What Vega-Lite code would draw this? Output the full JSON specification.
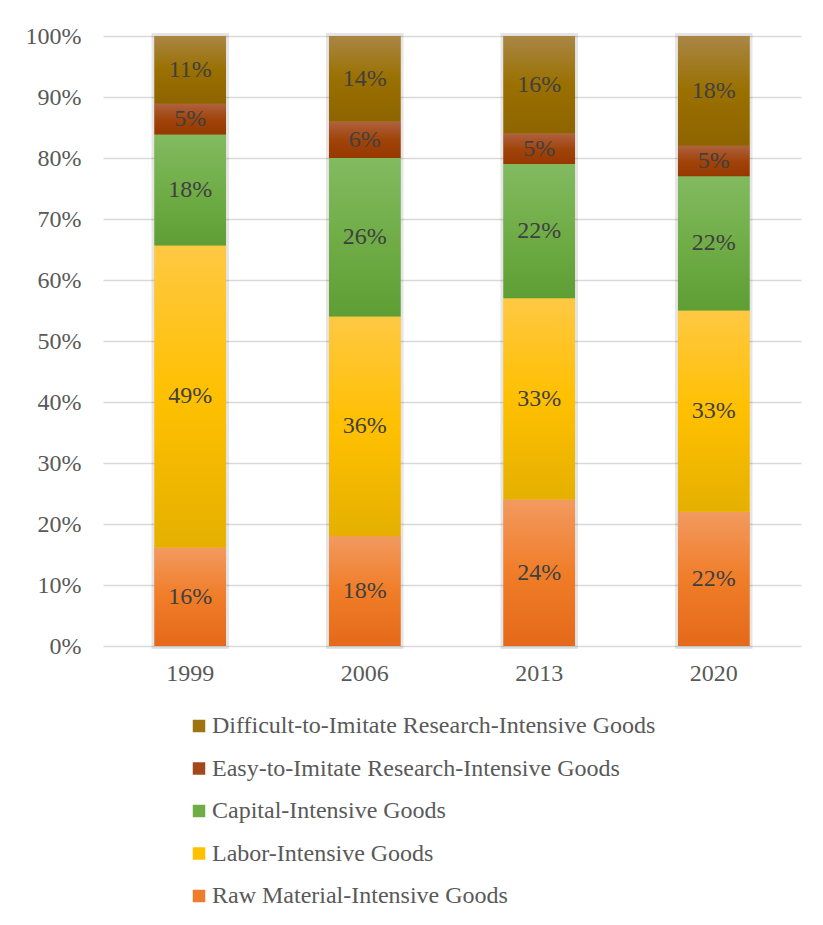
{
  "$schema": "https://vega.github.io/schema/vega-lite/v6.json",
  "width": 698,
  "height": 610,
  "autosize": {"type": "none"},
  "padding": {"left": 103, "top": 36, "right": 22, "bottom": 279},
  "background": "white",
  "config": {
    "font": "Liberation Serif, Times New Roman, serif",
    "view": {"stroke": null}
  },
  "data": {
    "values": [
      {"year": "1999", "category": "Raw Material-Intensive Goods", "rank": 1, "share": 16},
      {"year": "1999", "category": "Labor-Intensive Goods", "rank": 2, "share": 49},
      {"year": "1999", "category": "Capital-Intensive Goods", "rank": 3, "share": 18},
      {"year": "1999", "category": "Easy-to-Imitate Research-Intensive Goods", "rank": 4, "share": 5},
      {"year": "1999", "category": "Difficult-to-Imitate Research-Intensive Goods", "rank": 5, "share": 11},
      {"year": "2006", "category": "Raw Material-Intensive Goods", "rank": 1, "share": 18},
      {"year": "2006", "category": "Labor-Intensive Goods", "rank": 2, "share": 36},
      {"year": "2006", "category": "Capital-Intensive Goods", "rank": 3, "share": 26},
      {"year": "2006", "category": "Easy-to-Imitate Research-Intensive Goods", "rank": 4, "share": 6},
      {"year": "2006", "category": "Difficult-to-Imitate Research-Intensive Goods", "rank": 5, "share": 14},
      {"year": "2013", "category": "Raw Material-Intensive Goods", "rank": 1, "share": 24},
      {"year": "2013", "category": "Labor-Intensive Goods", "rank": 2, "share": 33},
      {"year": "2013", "category": "Capital-Intensive Goods", "rank": 3, "share": 22},
      {"year": "2013", "category": "Easy-to-Imitate Research-Intensive Goods", "rank": 4, "share": 5},
      {"year": "2013", "category": "Difficult-to-Imitate Research-Intensive Goods", "rank": 5, "share": 16},
      {"year": "2020", "category": "Raw Material-Intensive Goods", "rank": 1, "share": 22},
      {"year": "2020", "category": "Labor-Intensive Goods", "rank": 2, "share": 33},
      {"year": "2020", "category": "Capital-Intensive Goods", "rank": 3, "share": 22},
      {"year": "2020", "category": "Easy-to-Imitate Research-Intensive Goods", "rank": 4, "share": 5},
      {"year": "2020", "category": "Difficult-to-Imitate Research-Intensive Goods", "rank": 5, "share": 18}
    ]
  },
  "transform": [
    {"stack": "share", "groupby": ["year"], "sort": [{"field": "rank", "order": "ascending"}], "offset": "normalize", "as": ["s0", "s1"]},
    {"calculate": "(datum.s0 + datum.s1) / 2", "as": "mid"},
    {"calculate": "datum.share + '%'", "as": "label"}
  ],
  "encoding": {
    "x": {
      "field": "year",
      "type": "nominal",
      "title": null,
      "scale": {"paddingInner": 0.59, "paddingOuter": 0.295},
      "axis": {
        "labelAngle": 0,
        "labelFontSize": 24,
        "labelColor": "#595959",
        "labelPadding": 15,
        "ticks": false,
        "domain": false
      }
    }
  },
  "layer": [
    {
      "mark": {"type": "bar", "fillOpacity": 0, "stroke": "#000000", "strokeOpacity": 0.1, "strokeWidth": 6},
      "encoding": {
        "y": {
          "aggregate": "min",
          "field": "s0",
          "type": "quantitative",
          "title": null,
          "scale": {"domain": [0, 1]},
          "axis": {
            "format": ".0%",
            "values": [0, 0.1, 0.2, 0.3, 0.4, 0.5, 0.6, 0.7, 0.8, 0.9, 1],
            "labelFontSize": 24,
            "labelColor": "#595959",
            "labelPadding": 22,
            "ticks": false,
            "domain": false,
            "gridColor": "#D9D9D9",
            "gridWidth": 1.5
          }
        },
        "y2": {"aggregate": "max", "field": "s1"}
      }
    },
    {
      "mark": {"type": "bar"},
      "encoding": {
        "y": {"field": "s0", "type": "quantitative"},
        "y2": {"field": "s1"},
        "color": {
          "field": "category",
          "type": "nominal",
          "scale": {
            "domain": [
              "Difficult-to-Imitate Research-Intensive Goods",
              "Easy-to-Imitate Research-Intensive Goods",
              "Capital-Intensive Goods",
              "Labor-Intensive Goods",
              "Raw Material-Intensive Goods"
            ],
            "range": ["#9C7410", "#A2481A", "#70AD47", "#FFC000", "#EF7D2E"]
          },
          "legend": {
            "title": null,
            "orient": "none",
            "legendX": 84,
            "legendY": 678,
            "direction": "vertical",
            "symbolType": "square",
            "symbolSize": 156,
            "symbolStrokeWidth": 0,
            "labelFontSize": 24,
            "labelColor": "#595959",
            "labelLimit": 600,
            "labelOffset": 1,
            "rowPadding": 18.5
          }
        }
      }
    },
    {
      "transform": [{"filter": "datum.category === 'Raw Material-Intensive Goods'"}],
      "mark": {"type": "bar", "color": {"gradient": "linear", "x1": 0, "y1": 0, "x2": 0, "y2": 1, "stops": [{"offset": 0, "color": "#F29A60"}, {"offset": 0.5, "color": "#F07D28"}, {"offset": 1, "color": "#E4691A"}]}},
      "encoding": {"y": {"field": "s0", "type": "quantitative"}, "y2": {"field": "s1"}}
    },
    {
      "transform": [{"filter": "datum.category === 'Labor-Intensive Goods'"}],
      "mark": {"type": "bar", "color": {"gradient": "linear", "x1": 0, "y1": 0, "x2": 0, "y2": 1, "stops": [{"offset": 0, "color": "#FFC843"}, {"offset": 0.5, "color": "#FFC000"}, {"offset": 1, "color": "#E5B000"}]}},
      "encoding": {"y": {"field": "s0", "type": "quantitative"}, "y2": {"field": "s1"}}
    },
    {
      "transform": [{"filter": "datum.category === 'Capital-Intensive Goods'"}],
      "mark": {"type": "bar", "color": {"gradient": "linear", "x1": 0, "y1": 0, "x2": 0, "y2": 1, "stops": [{"offset": 0, "color": "#83BA61"}, {"offset": 0.5, "color": "#70AD47"}, {"offset": 1, "color": "#5E9E33"}]}},
      "encoding": {"y": {"field": "s0", "type": "quantitative"}, "y2": {"field": "s1"}}
    },
    {
      "transform": [{"filter": "datum.category === 'Easy-to-Imitate Research-Intensive Goods'"}],
      "mark": {"type": "bar", "color": {"gradient": "linear", "x1": 0, "y1": 0, "x2": 0, "y2": 1, "stops": [{"offset": 0, "color": "#B0613F"}, {"offset": 0.5, "color": "#A0440A"}, {"offset": 1, "color": "#963800"}]}},
      "encoding": {"y": {"field": "s0", "type": "quantitative"}, "y2": {"field": "s1"}}
    },
    {
      "transform": [{"filter": "datum.category === 'Difficult-to-Imitate Research-Intensive Goods'"}],
      "mark": {"type": "bar", "color": {"gradient": "linear", "x1": 0, "y1": 0, "x2": 0, "y2": 1, "stops": [{"offset": 0, "color": "#A98645"}, {"offset": 0.5, "color": "#9A7000"}, {"offset": 1, "color": "#8E6400"}]}},
      "encoding": {"y": {"field": "s0", "type": "quantitative"}, "y2": {"field": "s1"}}
    },
    {
      "mark": {"type": "text", "fontSize": 24, "color": "#404040", "baseline": "middle"},
      "encoding": {
        "y": {"field": "mid", "type": "quantitative"},
        "text": {"field": "label", "type": "nominal"}
      }
    }
  ]
}
